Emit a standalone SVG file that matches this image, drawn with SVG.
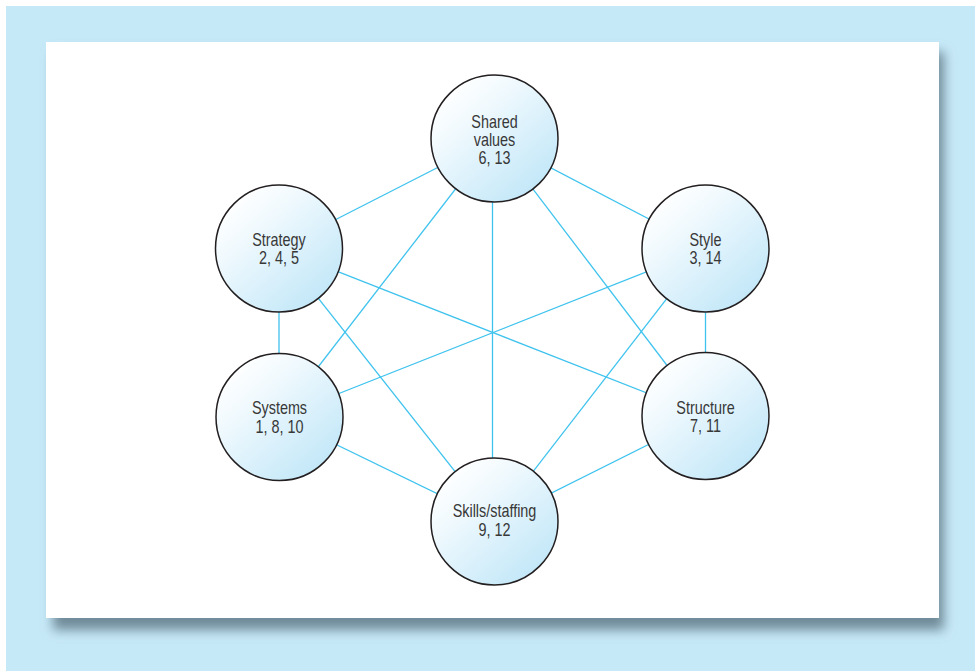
<svg xmlns="http://www.w3.org/2000/svg" width="975" height="671" viewBox="0 0 975 671">
<defs>
<linearGradient id="nodeFill" x1="0.15" y1="0.1" x2="0.85" y2="0.9">
<stop offset="0" stop-color="#ffffff"/>
<stop offset="0.25" stop-color="#f2fafe"/>
<stop offset="1" stop-color="#c2e7f8"/>
</linearGradient>
<filter id="shadow" x="-10%" y="-10%" width="120%" height="120%">
<feGaussianBlur stdDeviation="6"/>
</filter>
</defs>
<style>
.node circle { fill: url(#nodeFill); stroke: #231f20; stroke-width: 1.5; }
.node text { font-family: "Liberation Sans", Arial, sans-serif; font-size: 18px; fill: #383838; text-anchor: middle; }
.edges line { stroke: #3fc3ee; stroke-width: 1.3; }
</style>
<rect x="0" y="0" width="975" height="671" fill="#ffffff"/>
<rect x="6" y="6" width="969" height="665" fill="#c6e9f8"/>
<rect x="53" y="52" width="891" height="578" fill="#6f8a98" filter="url(#shadow)"/>
<rect x="46" y="42" width="893" height="576" fill="#ffffff"/>
<g id="connectors" class="edges">
<line x1="494.5" y1="138.5" x2="279" y2="248.5"/>
<line x1="494.5" y1="138.5" x2="705.5" y2="248.5"/>
<line x1="494.5" y1="138.5" x2="279.5" y2="417"/>
<line x1="494.5" y1="138.5" x2="705.5" y2="416"/>
<line x1="492.5" y1="138.5" x2="492.5" y2="521.5"/>
<line x1="279" y1="248.5" x2="279" y2="417"/>
<line x1="279" y1="248.5" x2="705.5" y2="416"/>
<line x1="279" y1="248.5" x2="494.5" y2="521.5"/>
<line x1="705.5" y1="248.5" x2="705.5" y2="416"/>
<line x1="705.5" y1="248.5" x2="279.5" y2="417"/>
<line x1="705.5" y1="248.5" x2="494.5" y2="521.5"/>
<line x1="279.5" y1="417" x2="494.5" y2="521.5"/>
<line x1="705.5" y1="416" x2="494.5" y2="521.5"/>
</g>
<g id="shared-values" class="node">
<circle cx="494.5" cy="138.5" r="63.5"/>
<g transform="translate(494.5,0) scale(0.8,1)">
<text x="0" y="128">Shared</text>
<text x="0" y="146">values</text>
<text x="0" y="164">6, 13</text>
</g>
</g>
<g id="strategy" class="node">
<circle cx="279" cy="248.5" r="63.5"/>
<g transform="translate(279,0) scale(0.8,1)">
<text x="0" y="246">Strategy</text>
<text x="0" y="264.5">2, 4, 5</text>
</g>
</g>
<g id="style" class="node">
<circle cx="705.5" cy="248.5" r="63.5"/>
<g transform="translate(705.5,0) scale(0.8,1)">
<text x="0" y="246">Style</text>
<text x="0" y="264.5">3, 14</text>
</g>
</g>
<g id="systems" class="node">
<circle cx="279.5" cy="417" r="63.5"/>
<g transform="translate(279.5,0) scale(0.8,1)">
<text x="0" y="414.5">Systems</text>
<text x="0" y="433">1, 8, 10</text>
</g>
</g>
<g id="structure" class="node">
<circle cx="705.5" cy="416" r="63.5"/>
<g transform="translate(705.5,0) scale(0.8,1)">
<text x="0" y="414">Structure</text>
<text x="0" y="432.5">7, 11</text>
</g>
</g>
<g id="skills-staffing" class="node">
<circle cx="494.5" cy="521.5" r="63.5"/>
<g transform="translate(494.5,0) scale(0.8,1)">
<text x="0" y="517.5">Skills/staffing</text>
<text x="0" y="536">9, 12</text>
</g>
</g>
</svg>
